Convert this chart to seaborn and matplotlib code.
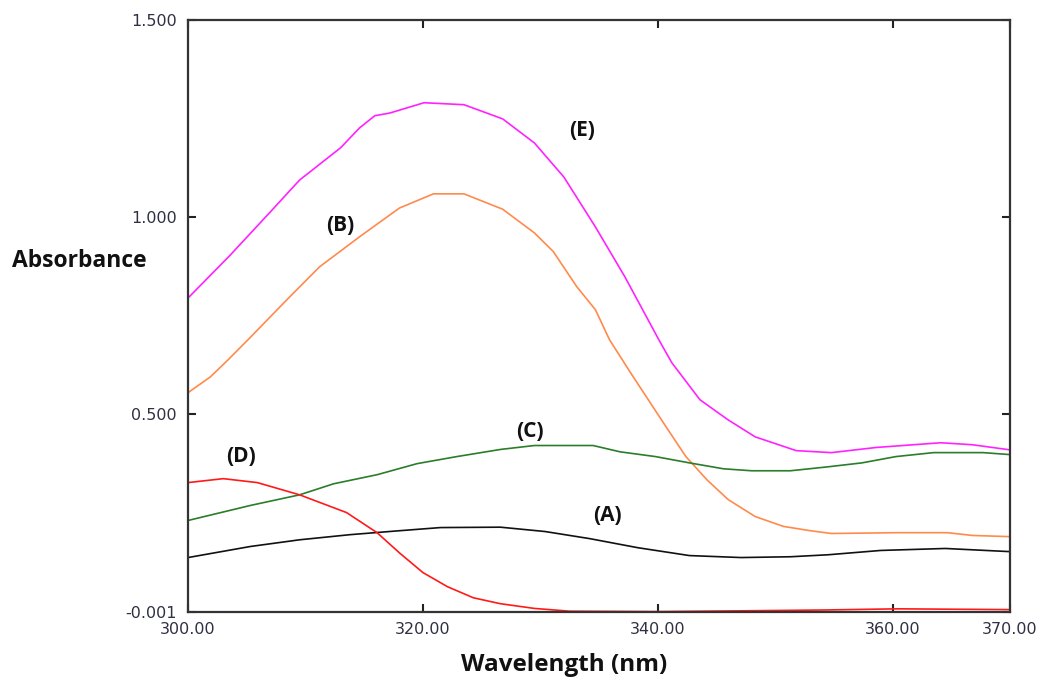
import numpy as np
import pandas as pd
import seaborn as sns
import matplotlib.pyplot as plt

# wavelength (nm) / absorbance
wl_e = [300, 303.6, 307, 309.5, 313, 314.6, 315.9, 317.2, 320.1, 323.5, 326.8, 329.5,
        332.0, 334.7, 337.2, 340.1, 341.2, 343.6, 346.0, 348.3, 351.8, 354.8, 358.6,
        361.8, 364.1, 366.8, 370]
abs_e = [0.795, 0.904, 1.013, 1.094, 1.176, 1.226, 1.257, 1.264, 1.290, 1.285, 1.249, 1.188,
         1.102, 0.975, 0.849, 0.689, 0.631, 0.537, 0.486, 0.443, 0.408, 0.403, 0.416,
         0.423, 0.428, 0.423, 0.410]

wl_b = [300, 301.9, 303.4, 305.1, 308.4, 311.2, 314.6, 318.0, 320.9, 323.5, 326.8, 329.5,
        331.1, 333.1, 334.7, 335.9, 337.7, 339.2, 340.7, 342.4, 344.2, 346.0, 348.3,
        350.7, 353.0, 354.8, 360.3, 364.7, 366.8, 370]
abs_b = [0.555, 0.595, 0.638, 0.689, 0.790, 0.874, 0.950, 1.023, 1.059, 1.059, 1.020, 0.960,
         0.913, 0.824, 0.765, 0.689, 0.605, 0.537, 0.469, 0.393, 0.334, 0.284, 0.241,
         0.216, 0.205, 0.198, 0.200, 0.200, 0.193, 0.190]

wl_c = [300, 305.3, 309.5, 312.4, 316.1, 319.5, 322.9, 326.6, 329.5, 334.5, 336.8, 339.8,
        342.7, 345.6, 348.0, 351.3, 354.5, 357.4, 360.3, 363.5, 367.7, 370]
abs_c = [0.231, 0.269, 0.296, 0.324, 0.347, 0.375, 0.393, 0.411, 0.421, 0.421, 0.405, 0.393,
         0.377, 0.362, 0.357, 0.357, 0.367, 0.377, 0.393, 0.403, 0.403, 0.398]

wl_a = [300, 305.3, 309.5, 313.8, 318.0, 321.5, 326.6, 330.4, 334.2, 338.3, 342.7, 347.1,
        351.3, 354.5, 359.0, 364.5, 370]
abs_a = [0.137, 0.165, 0.182, 0.195, 0.205, 0.213, 0.214, 0.203, 0.185, 0.162, 0.142, 0.137,
         0.139, 0.144, 0.155, 0.160, 0.152]

wl_d = [300, 303.0, 305.9, 309.5, 313.5, 316.1, 318.0, 320.0, 322.1, 324.3, 326.6, 329.5,
        332.5, 340, 347.4, 354, 360.5, 365, 370]
abs_d = [0.327, 0.337, 0.327, 0.296, 0.251, 0.200, 0.149, 0.099, 0.063, 0.035, 0.020, 0.008,
         0.001, 0.0, 0.002, 0.004, 0.007, 0.006, 0.005]

series = [
    ("(A)", wl_a, abs_a, "#111111"),
    ("(B)", wl_b, abs_b, "#FF8A4C"),
    ("(C)", wl_c, abs_c, "#2A7D2A"),
    ("(D)", wl_d, abs_d, "#FF1A1A"),
    ("(E)", wl_e, abs_e, "#FF22FF"),
]

# label positions (nm, absorbance)
label_pos = {"(E)": (333.6, 1.219), "(B)": (313.0, 0.979), "(C)": (329.1, 0.456),
             "(D)": (304.5, 0.394), "(A)": (335.7, 0.243)}

x_ticks = [300, 320, 340, 360, 370]
y_ticks = [-0.001, 0.5, 1.0, 1.5]

sns.set_style("ticks")
fig = plt.figure(figsize=(10.39, 6.79), dpi=100)
ax = fig.add_axes([0.181, 0.0987, 0.791, 0.872])

for name, wl, ab, col in series:
    df = pd.DataFrame({"wl": wl, "abs": ab})
    sns.lineplot(data=df, x="wl", y="abs", color=col, linewidth=1.2, ax=ax)
    tx, ty = label_pos[name]
    ax.text(tx, ty, name, fontsize=15, fontweight="bold", family="Open Sans",
            ha="center", va="center", color="#111111")

ax.set_xlim(300, 370)
ax.set_ylim(-0.001, 1.5)
ax.set_xticks(x_ticks)
ax.set_xticklabels([f"{v:.2f}" for v in x_ticks])
ax.set_yticks(y_ticks)
ax.set_yticklabels(["-0.001", "0.500", "1.000", "1.500"])

ax.tick_params(direction="in", length=6, width=1.5, top=True, right=True,
               labelsize=11.5, labelcolor="#303044", color="#222222")
ax.tick_params(axis="x", pad=7)
ax.tick_params(axis="y", pad=8)
for sp in ax.spines.values():
    sp.set_linewidth(1.6)
    sp.set_color("#333333")

ax.set_xlabel("Wavelength (nm)", fontsize=17.5, fontweight="bold", family="Open Sans",
              color="#111111", va="baseline")
ax.xaxis.set_label_coords(0.457, -0.1)
ax.set_ylabel("Absorbance", fontsize=16.5, fontweight="bold", family="Open Sans",
              rotation=0, ha="left", va="center", color="#111111")
ax.yaxis.set_label_coords(-0.214, 0.593)

fig.savefig("out.png", dpi=100)
